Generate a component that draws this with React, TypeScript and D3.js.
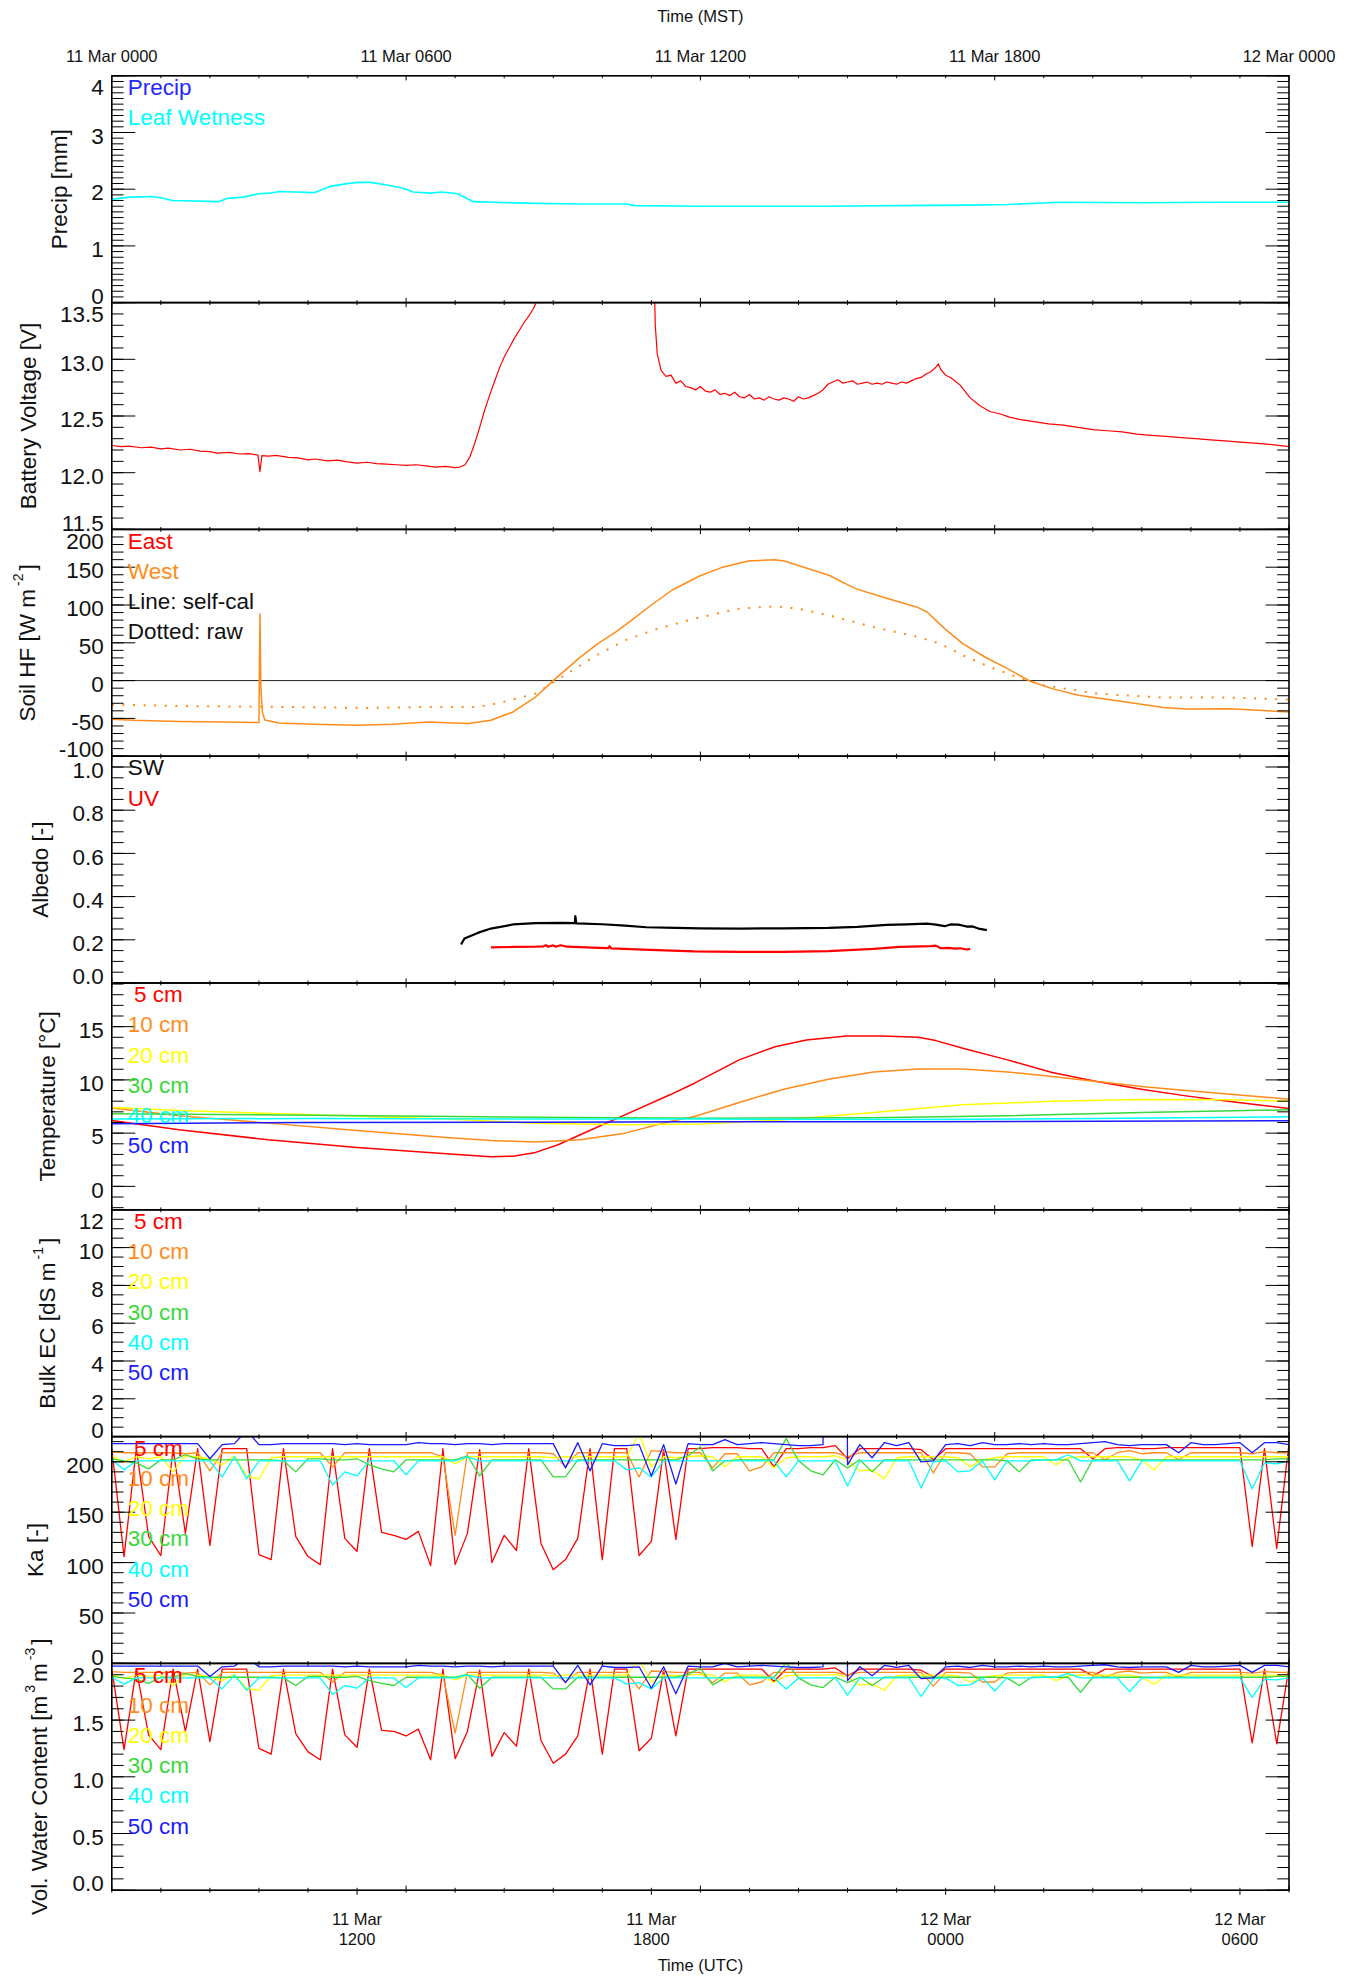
import React from "react";
import * as d3 from "d3";

// ---------------- time axis labels ----------------
const mstTickHours = [0, 6, 12, 18, 24];
const mstTickLabels = ["11 Mar 0000", "11 Mar 0600", "11 Mar 1200", "11 Mar 1800", "12 Mar 0000"];
const utcTickHours = [5, 11, 17, 23];
const utcTickDates = ["11 Mar", "11 Mar", "12 Mar", "12 Mar"];
const utcTickTimes = ["1200", "1800", "0000", "0600"];

// ---------------- panel 1: leaf wetness [hour MST, value] ----------------
const leafWetness = [
  [0, 1.82], [0.36, 1.86], [0.82, 1.87], [1.0, 1.85], [1.23, 1.8], [2.18, 1.78], [2.36, 1.84], [2.68, 1.86],
  [3.0, 1.92], [3.23, 1.93], [3.41, 1.96], [3.73, 1.95], [4.14, 1.94], [4.46, 2.05], [4.73, 2.09], [5.0, 2.12],
  [5.28, 2.12], [5.64, 2.07], [5.91, 2.02], [6.0, 2.0], [6.14, 1.95], [6.5, 1.93], [6.73, 1.95], [7.05, 1.92],
  [7.37, 1.78], [8.64, 1.75], [9.55, 1.74], [10.5, 1.74], [10.66, 1.71], [12.0, 1.7], [12.8, 1.7], [14.5, 1.7],
  [16.0, 1.71], [17.5, 1.72], [18.25, 1.73], [19.35, 1.77], [21.0, 1.76], [22.5, 1.77], [24, 1.77],
];

// ---------------- panel 2: battery voltage ----------------
const batteryVoltage = [
  [0, 12.24], [0.2, 12.23], [0.35, 12.235], [0.6, 12.22], [0.8, 12.226], [1.0, 12.21], [1.15, 12.217], [1.4, 12.2],
  [1.6, 12.207], [1.8, 12.19], [2.0, 12.186], [2.15, 12.173], [2.4, 12.18], [2.6, 12.165], [2.8, 12.168], [2.98, 12.155],
  [3.02, 12.01], [3.06, 12.15], [3.2, 12.146], [3.35, 12.152], [3.6, 12.135], [3.8, 12.13], [4.0, 12.113], [4.15, 12.121],
  [4.4, 12.105], [4.6, 12.111], [4.8, 12.095], [5.0, 12.085], [5.2, 12.092], [5.4, 12.08], [5.6, 12.076], [5.8, 12.07],
  [6.0, 12.064], [6.2, 12.07], [6.4, 12.06], [6.6, 12.05], [6.8, 12.056], [7.0, 12.045], [7.1, 12.05], [7.2, 12.07],
  [7.3, 12.14], [7.4, 12.26], [7.5, 12.4], [7.6, 12.55], [7.7, 12.68], [7.8, 12.8], [7.9, 12.92], [8.0, 13.02],
  [8.1, 13.1], [8.2, 13.18], [8.3, 13.25], [8.4, 13.32], [8.5, 13.38], [8.6, 13.45], [8.65, 13.5], [8.7, 13.62],
  [8.8, 13.8], [9.0, 14.0], [10.8, 14.0], [11.05, 13.9], [11.08, 13.3], [11.12, 13.05],
  [11.2, 12.9], [11.3, 12.85], [11.4, 12.86], [11.5, 12.79], [11.6, 12.81], [11.7, 12.76], [11.8, 12.75], [11.9, 12.73],
  [12.0, 12.76], [12.1, 12.72], [12.2, 12.71], [12.3, 12.73], [12.4, 12.69], [12.5, 12.7], [12.6, 12.68], [12.7, 12.71],
  [12.8, 12.67], [12.9, 12.66], [13.0, 12.69], [13.1, 12.65], [13.2, 12.66], [13.3, 12.64], [13.4, 12.67], [13.5, 12.65],
  [13.6, 12.64], [13.7, 12.66], [13.8, 12.65], [13.9, 12.63], [14.0, 12.67], [14.1, 12.65], [14.2, 12.66], [14.3, 12.68],
  [14.4, 12.7], [14.5, 12.73], [14.6, 12.78], [14.7, 12.8], [14.8, 12.82], [14.9, 12.79], [15.0, 12.8], [15.1, 12.81],
  [15.2, 12.78], [15.3, 12.79], [15.4, 12.8], [15.5, 12.78], [15.6, 12.79], [15.7, 12.78], [15.8, 12.8], [15.9, 12.79],
  [16.0, 12.78], [16.1, 12.8], [16.2, 12.79], [16.3, 12.81], [16.4, 12.83], [16.5, 12.84], [16.6, 12.87], [16.7, 12.89],
  [16.8, 12.93], [16.85, 12.96], [16.9, 12.91], [17.0, 12.86], [17.1, 12.84], [17.3, 12.77], [17.5, 12.66], [17.7, 12.59],
  [17.9, 12.54], [18.1, 12.52], [18.3, 12.49], [18.5, 12.47], [18.8, 12.45], [19.1, 12.43], [19.4, 12.42], [19.7, 12.4],
  [20.0, 12.38], [20.3, 12.37], [20.6, 12.36], [20.9, 12.34], [21.2, 12.33], [21.5, 12.32], [21.8, 12.31], [22.1, 12.3],
  [22.4, 12.29], [22.7, 12.28], [23.0, 12.27], [23.3, 12.26], [23.6, 12.25], [24.0, 12.23],
];

// ---------------- panel 3: soil heat flux (West) ----------------
const soilHFWestSelfCal = [
  [0, -51], [0.45, -52.5], [1.37, -54], [2.27, -54.6], [3.0, -55.5], [3.02, 88], [3.04, -10], [3.07, -42],
  [3.12, -52], [3.4, -56], [4.1, -57.8], [5.0, -59], [5.73, -57.8], [6.46, -54.7], [6.82, -55.6], [7.28, -56.9],
  [7.73, -52.5], [8.18, -41.5], [8.64, -21.7], [9.0, 0], [9.55, 31], [9.91, 49], [10.27, 64], [10.64, 82],
  [11.0, 100], [11.42, 119.5], [11.97, 138], [12.43, 149.5], [12.98, 158.2], [13.52, 160], [13.71, 158.2], [14.62, 139.3],
  [15.16, 121.7], [15.71, 110.6], [16.44, 96.6], [16.62, 90.8], [16.98, 68.8], [17.35, 48.9], [17.8, 31.2], [18.26, 15.9],
  [18.71, -0.5], [19.17, -10.6], [19.71, -19.4], [20.53, -27], [21.44, -35.7], [21.9, -37.5], [22.8, -37.1], [24, -41.5],
];
const soilHFWestRaw = [
  [0, -31.8], [1.37, -33.6], [3.0, -34.4], [4.1, -35.3], [5.2, -36.2], [6.37, -34.9], [7.46, -34.9], [7.9, -29.6],
  [8.64, -17.2], [9.18, 4.8], [9.82, 31.2], [10.46, 53.3], [11.1, 68], [11.88, 82], [12.79, 95.2], [13.52, 98.3],
  [13.98, 95.2], [14.62, 86.4], [15.53, 70.9], [16.44, 57.7], [16.89, 48.9], [17.35, 33.5], [17.9, 18], [18.45, 4.8],
  [18.99, -6.2], [20.09, -17.2], [21.44, -22.5], [22.8, -22.5], [24, -25.1],
];

// ---------------- panel 4: albedo ----------------
const albedoSW = [
  [7.12, 0.178], [7.19, 0.206], [7.46, 0.232], [7.73, 0.252], [8.18, 0.271], [8.64, 0.277], [9.2, 0.278], [9.44, 0.277],
  [9.45, 0.31], [9.47, 0.276], [10.0, 0.272], [10.46, 0.266], [10.9, 0.258], [11.5, 0.255], [12.0, 0.253], [12.79, 0.252],
  [13.7, 0.253], [14.61, 0.255], [15.2, 0.26], [15.8, 0.269], [16.2, 0.271], [16.62, 0.275], [16.8, 0.27], [16.98, 0.263],
  [17.1, 0.271], [17.26, 0.27], [17.36, 0.265], [17.44, 0.261], [17.55, 0.262], [17.67, 0.252], [17.84, 0.245],
];
const albedoUV = [
  [7.73, 0.165], [8.2, 0.167], [8.64, 0.168], [8.8, 0.17], [8.85, 0.175], [8.9, 0.168], [9.0, 0.174], [9.05, 0.168],
  [9.15, 0.175], [9.28, 0.168], [9.8, 0.164], [10.12, 0.161], [10.15, 0.17], [10.18, 0.16], [10.97, 0.153], [11.88, 0.146],
  [12.79, 0.144], [13.7, 0.144], [14.61, 0.148], [15.53, 0.158], [16.07, 0.167], [16.7, 0.171], [16.8, 0.173], [16.9, 0.161],
  [17.05, 0.163], [17.2, 0.159], [17.3, 0.161], [17.42, 0.155], [17.5, 0.158],
];

// ---------------- panel 5: soil temperature ----------------
const temp5cm = [
  [0, 6.19], [1.37, 5.31], [3.19, 4.38], [5.0, 3.66], [6.82, 3.07], [7.73, 2.78], [8.18, 2.84], [8.64, 3.19],
  [9.1, 3.91], [9.55, 4.85], [10.46, 6.72], [11.38, 8.6], [11.88, 9.69], [12.79, 11.88], [13.52, 13.12], [14.16, 13.75],
  [14.98, 14.13], [15.71, 14.13], [16.44, 14.0], [16.8, 13.69], [17.35, 12.97], [18.26, 11.88], [19.17, 10.69], [20.08, 9.84],
  [20.99, 9.13], [21.9, 8.5], [22.8, 7.97], [24, 7.31],
];
const temp10cm = [
  [0, 7.35], [1.37, 6.63], [3.19, 5.94], [5.0, 5.25], [6.82, 4.6], [7.73, 4.31], [8.64, 4.16], [9.55, 4.38],
  [10.46, 5.0], [11.38, 6.09], [11.88, 6.56], [12.79, 7.88], [13.7, 9.13], [14.61, 10.07], [15.53, 10.75], [16.44, 11.03],
  [17.35, 11.03], [18.26, 10.75], [19.17, 10.31], [20.08, 9.84], [20.99, 9.38], [21.9, 9.0], [22.8, 8.66], [24, 8.19],
];
const temp20cm = [
  [0, 7.41], [1.37, 7.13], [4.1, 6.72], [6.82, 6.32], [8.64, 5.94], [10.46, 5.78], [12, 5.85], [13.7, 6.25],
  [15.53, 6.94], [17.35, 7.66], [19.17, 8.0], [20.99, 8.16], [22.8, 8.13], [24, 8.0],
];
const temp30cm = [[0, 6.82], [4.1, 6.69], [8.64, 6.5], [12, 6.4], [15.5, 6.44], [18.26, 6.63], [20.99, 6.94], [24, 7.19]];
const temp40cm = [[0, 6.32], [4.1, 6.38], [8.64, 6.32], [12, 6.32], [16.44, 6.28], [20, 6.38], [24, 6.53]];
const temp50cm = [[0, 5.88], [4.1, 6.0], [8.64, 6.03], [12, 6.06], [16.44, 6.06], [24, 6.16]];

// ---------------- panels 7-8: Ka and VWC, 15-minute samples from 11 Mar 0000 MST ----------------
const sampleHours = d3.range(97).map((i) => i * 0.25);

const ka5cm = [
  213, 106, 213, 126, 107, 213, 129, 213, 117, 213, 213, 213, 108, 103, 213, 126,
  106, 98, 213, 124, 111, 213, 130, 127, 123, 131, 97, 213, 98, 129, 212, 100,
  127, 112, 213, 119, 93, 103, 124, 213, 103, 213, 213, 107, 121, 212, 123, 213,
  213, 214, 214, 214, 213, 213, 195, 213, 213, 214, 214, 216, 203, 213, 213, 213,
  213, 213, 212, 202, 213, 213, 213, 213, 213, 213, 213, 213, 213, 213, 213, 213,
  203, 213, 214, 214, 213, 213, 214, 214, 214, 214, 214, 214, 214, 116, 213, 114,
  218,
];
const ka10cm = [
  210, 209, 209, 209, 209, 209, 208, 209, 191, 209, 209, 209, 209, 209, 209, 209,
  209, 209, 195, 209, 209, 209, 209, 209, 209, 209, 209, 205, 127, 209, 209, 209,
  209, 209, 209, 209, 208, 195, 209, 209, 209, 209, 209, 185, 211, 210, 209, 209,
  209, 194, 208, 208, 191, 195, 209, 209, 209, 209, 209, 209, 205, 209, 209, 209,
  209, 209, 209, 189, 209, 209, 208, 195, 195, 208, 209, 209, 209, 209, 209, 209,
  209, 202, 209, 211, 208, 209, 209, 202, 209, 209, 209, 209, 209, 208, 210, 209,
  209,
];
const ka20cm = [
  206, 200, 205, 203, 205, 190, 206, 205, 203, 197, 206, 186, 183, 204, 205, 205,
  205, 205, 205, 205, 205, 205, 205, 205, 205, 205, 205, 205, 198, 205, 205, 205,
  205, 205, 205, 205, 204, 205, 205, 205, 205, 205, 205, 228, 195, 205, 204, 205,
  206, 205, 195, 205, 205, 205, 194, 204, 205, 205, 205, 206, 202, 191, 192, 183,
  204, 205, 205, 205, 205, 204, 195, 202, 204, 205, 205, 205, 205, 197, 204, 205,
  205, 205, 205, 205, 202, 192, 205, 205, 205, 205, 205, 205, 205, 205, 205, 205,
  205,
];
const ka30cm = [
  203, 201, 199, 193, 202, 202, 207, 203, 202, 202, 202, 202, 202, 202, 201, 190,
  203, 203, 202, 202, 203, 197, 193, 190, 202, 202, 202, 202, 202, 206, 186, 202,
  202, 202, 202, 202, 185, 185, 202, 202, 202, 202, 202, 202, 202, 202, 202, 206,
  215, 191, 201, 202, 202, 202, 202, 223, 201, 191, 187, 202, 194, 202, 190, 202,
  202, 202, 202, 202, 202, 202, 202, 202, 202, 201, 190, 202, 202, 202, 202, 180,
  202, 202, 202, 202, 202, 202, 202, 202, 202, 202, 202, 202, 202, 202, 202, 203,
  203,
];
const ka40cm = [
  202, 192, 201, 201, 201, 201, 201, 201, 201, 185, 205, 183, 201, 201, 201, 201,
  201, 201, 177, 190, 186, 201, 201, 201, 187, 201, 201, 201, 201, 205, 201, 201,
  201, 201, 201, 201, 201, 201, 201, 201, 201, 201, 192, 194, 185, 201, 201, 201,
  201, 201, 201, 201, 201, 201, 201, 185, 201, 201, 201, 201, 176, 201, 201, 201,
  201, 201, 174, 200, 201, 190, 191, 201, 182, 201, 201, 201, 202, 202, 207, 201,
  201, 201, 201, 181, 201, 201, 201, 201, 201, 201, 201, 201, 201, 173, 199, 198,
  201,
];
const ka50cm = [
  218, 218, 218, 218, 218, 218, 218, 218, 203, 217, 218, 231, 217, 217, 218, 218,
  218, 218, 218, 217, 218, 217, 217, 217, 217, 219, 218, 218, 217, 218, 218, 217,
  218, 218, 218, 218, 218, 194, 219, 191, 218, 216, 216, 217, 186, 217, 178, 218,
  217, 217, 222, 217, 218, 219, 218, 217, 216, 216, 217, 2000, 197, 217, 204, 219,
  216, 219, 200, 201, 217, 218, 216, 219, 217, 217, 218, 217, 218, 217, 217, 218,
  219, 220, 217, 216, 217, 217, 217, 209, 219, 217, 217, 218, 219, 209, 219, 219,
  217,
];

const vwc5cm = [
  1.95, 1.24, 1.95, 1.37, 1.24, 1.95, 1.4, 1.95, 1.31, 1.95, 1.95, 1.95, 1.25, 1.2, 1.95, 1.38,
  1.22, 1.15, 1.95, 1.37, 1.26, 1.95, 1.41, 1.4, 1.36, 1.42, 1.15, 1.95, 1.16, 1.4, 1.94, 1.18,
  1.39, 1.27, 1.95, 1.32, 1.12, 1.2, 1.36, 1.95, 1.2, 1.95, 1.95, 1.23, 1.34, 1.94, 1.36, 1.95,
  1.95, 1.95, 1.95, 1.95, 1.95, 1.95, 1.84, 1.95, 1.95, 1.95, 1.95, 1.96, 1.89, 1.95, 1.95, 1.95,
  1.95, 1.95, 1.94, 1.88, 1.95, 1.95, 1.95, 1.95, 1.95, 1.95, 1.95, 1.95, 1.95, 1.95, 1.95, 1.95,
  1.89, 1.95, 1.95, 1.95, 1.95, 1.95, 1.95, 1.95, 1.95, 1.95, 1.95, 1.95, 1.95, 1.3, 1.95, 1.29,
  1.97,
];
const vwc10cm = [
  1.927, 1.921, 1.921, 1.921, 1.921, 1.921, 1.915, 1.921, 1.811, 1.921, 1.921, 1.921, 1.921, 1.921, 1.921, 1.921,
  1.921, 1.921, 1.836, 1.921, 1.921, 1.921, 1.921, 1.921, 1.921, 1.921, 1.921, 1.897, 1.386, 1.921, 1.921, 1.921,
  1.921, 1.921, 1.921, 1.921, 1.915, 1.836, 1.921, 1.921, 1.921, 1.921, 1.921, 1.775, 1.933, 1.927, 1.921, 1.921,
  1.921, 1.83, 1.915, 1.915, 1.811, 1.836, 1.921, 1.921, 1.921, 1.921, 1.921, 1.921, 1.897, 1.921, 1.921, 1.921,
  1.921, 1.921, 1.921, 1.799, 1.921, 1.921, 1.915, 1.836, 1.836, 1.915, 1.921, 1.921, 1.921, 1.921, 1.921, 1.921,
  1.921, 1.878, 1.921, 1.933, 1.915, 1.921, 1.921, 1.878, 1.921, 1.921, 1.921, 1.921, 1.921, 1.915, 1.927, 1.921,
  1.921,
];
const vwc20cm = [
  1.903, 1.866, 1.897, 1.885, 1.897, 1.805, 1.903, 1.897, 1.885, 1.848, 1.903, 1.781, 1.763, 1.891, 1.897, 1.897,
  1.897, 1.897, 1.897, 1.897, 1.897, 1.897, 1.897, 1.897, 1.897, 1.897, 1.897, 1.897, 1.854, 1.897, 1.897, 1.897,
  1.897, 1.897, 1.897, 1.897, 1.891, 1.897, 1.897, 1.897, 1.897, 1.897, 1.897, 2.037, 1.836, 1.897, 1.891, 1.897,
  1.903, 1.897, 1.836, 1.897, 1.897, 1.897, 1.83, 1.891, 1.897, 1.897, 1.897, 1.903, 1.878, 1.811, 1.817, 1.763,
  1.891, 1.897, 1.897, 1.897, 1.897, 1.891, 1.836, 1.878, 1.891, 1.897, 1.897, 1.897, 1.897, 1.848, 1.891, 1.897,
  1.897, 1.897, 1.897, 1.897, 1.878, 1.817, 1.897, 1.897, 1.897, 1.897, 1.897, 1.897, 1.897, 1.897, 1.897, 1.897,
  1.897,
];
const vwc30cm = [
  1.885, 1.872, 1.86, 1.824, 1.878, 1.878, 1.909, 1.885, 1.878, 1.878, 1.878, 1.878, 1.878, 1.878, 1.872, 1.805,
  1.885, 1.885, 1.878, 1.878, 1.885, 1.848, 1.824, 1.805, 1.878, 1.878, 1.878, 1.878, 1.878, 1.903, 1.781, 1.878,
  1.878, 1.878, 1.878, 1.878, 1.775, 1.775, 1.878, 1.878, 1.878, 1.878, 1.878, 1.878, 1.878, 1.878, 1.878, 1.903,
  1.958, 1.811, 1.872, 1.878, 1.878, 1.878, 1.878, 2.007, 1.872, 1.811, 1.787, 1.878, 1.83, 1.878, 1.805, 1.878,
  1.878, 1.878, 1.878, 1.878, 1.878, 1.878, 1.878, 1.878, 1.878, 1.872, 1.805, 1.878, 1.878, 1.878, 1.878, 1.744,
  1.878, 1.878, 1.878, 1.878, 1.878, 1.878, 1.878, 1.878, 1.878, 1.878, 1.878, 1.878, 1.878, 1.878, 1.878, 1.885,
  1.885,
];
const vwc40cm = [
  1.878, 1.817, 1.872, 1.872, 1.872, 1.872, 1.872, 1.872, 1.872, 1.775, 1.897, 1.763, 1.872, 1.872, 1.872, 1.872,
  1.872, 1.872, 1.726, 1.805, 1.781, 1.872, 1.872, 1.872, 1.787, 1.872, 1.872, 1.872, 1.872, 1.897, 1.872, 1.872,
  1.872, 1.872, 1.872, 1.872, 1.872, 1.872, 1.872, 1.872, 1.872, 1.872, 1.817, 1.83, 1.775, 1.872, 1.872, 1.872,
  1.872, 1.872, 1.872, 1.872, 1.872, 1.872, 1.872, 1.775, 1.872, 1.872, 1.872, 1.872, 1.72, 1.872, 1.872, 1.872,
  1.872, 1.872, 1.708, 1.866, 1.872, 1.805, 1.811, 1.872, 1.757, 1.872, 1.872, 1.872, 1.878, 1.878, 1.909, 1.872,
  1.872, 1.872, 1.872, 1.75, 1.872, 1.872, 1.872, 1.872, 1.872, 1.872, 1.872, 1.872, 1.872, 1.701, 1.86, 1.854,
  1.872,
];
const vwc50cm = [
  1.976, 1.976, 1.976, 1.976, 1.976, 1.976, 1.976, 1.976, 1.885, 1.97, 1.976, 2.055, 1.97, 1.97, 1.976, 1.976,
  1.976, 1.976, 1.976, 1.97, 1.976, 1.97, 1.97, 1.97, 1.97, 1.982, 1.976, 1.976, 1.97, 1.976, 1.976, 1.97,
  1.976, 1.976, 1.976, 1.976, 1.976, 1.83, 1.982, 1.811, 1.976, 1.964, 1.964, 1.97, 1.781, 1.97, 1.732, 1.976,
  1.97, 1.97, 2.0, 1.97, 1.976, 1.982, 1.976, 1.97, 1.964, 1.964, 1.97, 20, 1.848, 1.97, 1.891, 1.982,
  1.964, 1.982, 1.866, 1.872, 1.97, 1.976, 1.964, 1.982, 1.97, 1.97, 1.976, 1.97, 1.976, 1.97, 1.97, 1.976,
  1.982, 1.988, 1.97, 1.964, 1.97, 1.97, 1.97, 1.921, 1.982, 1.97, 1.97, 1.976, 1.982, 1.921, 1.982, 1.982,
  1.97,
];

const depthLabels = [" 5 cm", "10 cm", "20 cm", "30 cm", "40 cm", "50 cm"];

// ---------------- layout / style ----------------
const W = 1348;
const H = 1977;
const X0 = 111.8;
const X1 = 1289;
const TOP = 75.8;
const PH = 226.8;
const FONT = "'Liberation Sans', Arial, Helvetica, sans-serif";
const RED = "#ff0000";
const ORANGE = "#ff8c1a";
const YELLOW = "#ffff00";
const GREEN = "#38d838";
const CYAN = "#00ffff";
const BLUE = "#1a1aff";
const depthColors = [RED, ORANGE, YELLOW, GREEN, CYAN, BLUE];

const x = d3.scaleLinear().domain([0, 24]).range([X0, X1]);

function ticksFor(d0: number, d1: number, step: number) {
  const out: number[] = [];
  const k0 = Math.ceil(d0 / step - 1e-6);
  const k1 = Math.floor(d1 / step + 1e-6);
  for (let k = k0; k <= k1; k++) out.push(+(k * step).toFixed(6));
  return out;
}

type Series = { pts: number[][]; color: string; width: number; dash?: string };
type PanelDef = {
  domain: [number, number];
  major: number;
  minor: number;
  fmt: (v: number) => string;
  title: React.ReactNode;
  titleX: number;
  legend: { text: string; color: string }[];
  series: Series[];
  zeroLine?: boolean;
};

const pair = (t: number[], v: number[]) => t.map((tt, i) => [tt, v[i]]);

function Panel({ def, index, last }: { def: PanelDef; index: number; last: boolean }) {
  const top = TOP + index * PH;
  const bottom = top + PH;
  const y = d3.scaleLinear().domain(def.domain).range([bottom, top]);
  const lineGen = d3
    .line<number[]>()
    .x((d) => x(d[0]))
    .y((d) => y(d[1]));
  const majors = ticksFor(def.domain[0], def.domain[1], def.major);
  const minors = ticksFor(def.domain[0], def.domain[1], def.minor);
  const hours = d3.range(0, 25);
  const clipId = `clip-panel-${index}`;
  const cy = (top + bottom) / 2;

  return (
    <g>
      <defs>
        <clipPath id={clipId}>
          <rect x={X0} y={top} width={X1 - X0} height={PH} />
        </clipPath>
      </defs>
      {def.zeroLine && <line x1={X0} x2={X1} y1={y(0)} y2={y(0)} stroke="#222" strokeWidth={1} />}
      <g clipPath={`url(#${clipId})`}>
        {def.series.map((s, i) => (
          <path
            key={i}
            d={lineGen(s.pts) || ""}
            fill="none"
            stroke={s.color}
            strokeWidth={s.width}
            strokeDasharray={s.dash}
            strokeLinejoin="round"
          />
        ))}
      </g>
      <rect x={X0} y={top} width={X1 - X0} height={PH} fill="none" stroke="#000" strokeWidth={1.6} />
      {hours.map((h) => {
        const len = h % 6 === 0 ? 4.6 : 2.4;
        return (
          <g key={"xt" + h}>
            <line x1={x(h)} x2={x(h)} y1={top} y2={top + len} stroke="#000" strokeWidth={1} />
            <line x1={x(h)} x2={x(h)} y1={bottom} y2={bottom - len} stroke="#000" strokeWidth={1} />
          </g>
        );
      })}
      {last &&
        hours.map((h) => {
          const len = utcTickHours.includes(h) ? 4.6 : 2.4;
          return <line key={"ut" + h} x1={x(h)} x2={x(h)} y1={bottom} y2={bottom + len} stroke="#000" strokeWidth={1} />;
        })}
      {minors.map((v) => (
        <g key={"mn" + v}>
          <line x1={X0} x2={X0 + 11.8} y1={y(v)} y2={y(v)} stroke="#000" strokeWidth={1} />
          <line x1={X1} x2={X1 - 11.8} y1={y(v)} y2={y(v)} stroke="#000" strokeWidth={1} />
        </g>
      ))}
      {majors.map((v) => {
        const ty = y(v);
        let off = 3.7;
        if (Math.abs(ty - top) < 1.5) off = 11.8;
        else if (Math.abs(ty - bottom) < 1.5) off = -6.3;
        return (
          <g key={"mj" + v}>
            <line x1={X0} x2={X0 + 23.5} y1={ty} y2={ty} stroke="#000" strokeWidth={1} />
            <line x1={X1} x2={X1 - 23.5} y1={ty} y2={ty} stroke="#000" strokeWidth={1} />
            <text x={X0 - 8} y={ty + off} textAnchor="end" dominantBaseline="central" fontSize={22.5} fill="#111">
              {def.fmt(v)}
            </text>
          </g>
        );
      })}
      <text
        transform={`translate(${def.titleX},${cy}) rotate(-90)`}
        textAnchor="middle"
        dominantBaseline="central"
        fontSize={22.5}
        fill="#111"
      >
        {def.title}
      </text>
      {def.legend.map((l, i) => (
        <text
          key={"lg" + i}
          x={X0 + 16}
          y={top + 11.7 + i * 30.2}
          dominantBaseline="central"
          fontSize={22.5}
          fill={l.color}
          style={{ whiteSpace: "pre" }}
        >
          {l.text}
        </text>
      ))}
    </g>
  );
}

// plain hyphen-minus formatting, as in the reference
const fmtInt = (v: number) => String(Math.round(v));
const fmtOne = (v: number) => v.toFixed(1);

export default function App() {
  const depthLegend = depthLabels.map((t, i) => ({ text: t, color: depthColors[i] }));
  const kaSeries = [ka5cm, ka10cm, ka20cm, ka30cm, ka40cm, ka50cm].map((v, i) => ({
    pts: pair(sampleHours, v),
    color: depthColors[i],
    width: 1.3,
  }));
  const vwcSeries = [vwc5cm, vwc10cm, vwc20cm, vwc30cm, vwc40cm, vwc50cm].map((v, i) => ({
    pts: pair(sampleHours, v),
    color: depthColors[i],
    width: 1.3,
  }));
  const tempSeries = [temp5cm, temp10cm, temp20cm, temp30cm, temp40cm, temp50cm].map((p, i) => ({
    pts: p,
    color: depthColors[i],
    width: 1.5,
  }));

  const panels: PanelDef[] = [
    {
      domain: [0, 4],
      major: 1,
      minor: 0.1,
      fmt: fmtInt,
      title: "Precip [mm]",
      titleX: 59,
      legend: [
        { text: "Precip", color: "#2626ff" },
        { text: "Leaf Wetness", color: CYAN },
      ],
      series: [{ pts: leafWetness, color: CYAN, width: 1.6 }],
    },
    {
      domain: [11.5, 13.5],
      major: 0.5,
      minor: 0.1,
      fmt: fmtOne,
      title: "Battery Voltage [V]",
      titleX: 28,
      legend: [],
      series: [{ pts: batteryVoltage, color: RED, width: 1.2 }],
    },
    {
      domain: [-100, 200],
      major: 50,
      minor: 10,
      fmt: fmtInt,
      title: (
        <>
          Soil HF [W m
          <tspan dx={3} dy={-9} fontSize={14}>
            -2
          </tspan>
          <tspan dx={3} dy={9}>
            ]
          </tspan>
        </>
      ),
      titleX: 27,
      legend: [
        { text: "East", color: RED },
        { text: "West", color: ORANGE },
        { text: "Line: self-cal", color: "#111" },
        { text: "Dotted: raw", color: "#111" },
      ],
      series: [
        { pts: soilHFWestSelfCal, color: ORANGE, width: 1.5 },
        { pts: soilHFWestRaw, color: ORANGE, width: 2, dash: "2 8.6" },
      ],
      zeroLine: true,
    },
    {
      domain: [0, 1.05],
      major: 0.2,
      minor: 0.05,
      fmt: fmtOne,
      title: "Albedo [-]",
      titleX: 40,
      legend: [
        { text: "SW", color: "#111" },
        { text: "UV", color: RED },
      ],
      series: [
        { pts: albedoSW, color: "#000", width: 2.2 },
        { pts: albedoUV, color: RED, width: 2.2 },
      ],
    },
    {
      domain: [-2.2, 19.1],
      major: 5,
      minor: 1,
      fmt: fmtInt,
      title: "Temperature [°C]",
      titleX: 47,
      legend: depthLegend,
      series: tempSeries,
    },
    {
      domain: [0, 12],
      major: 2,
      minor: 0.5,
      fmt: fmtInt,
      title: (
        <>
          Bulk EC [dS m
          <tspan dx={3} dy={-9} fontSize={14}>
            -1
          </tspan>
          <tspan dx={3} dy={9}>
            ]
          </tspan>
        </>
      ),
      titleX: 47,
      legend: depthLegend,
      series: [],
    },
    {
      domain: [0, 225],
      major: 50,
      minor: 10,
      fmt: fmtInt,
      title: "Ka [-]",
      titleX: 35,
      legend: depthLegend,
      series: kaSeries,
    },
    {
      domain: [0, 2.0],
      major: 0.5,
      minor: 0.1,
      fmt: fmtOne,
      title: (
        <>
          Vol. Water Content [m
          <tspan dx={3} dy={-9} fontSize={14}>
            3
          </tspan>
          <tspan dx={3} dy={9}>
            m
          </tspan>
          <tspan dx={3} dy={-9} fontSize={14}>
            -3
          </tspan>
          <tspan dx={3} dy={9}>
            ]
          </tspan>
        </>
      ),
      titleX: 39,
      legend: depthLegend,
      series: vwcSeries,
    },
  ];

  const lastBottom = TOP + panels.length * PH;

  return (
    <div style={{ position: "absolute", left: 0, top: 0 }}>
      <svg width={W} height={H} style={{ display: "block", fontFamily: FONT }}>
        <rect x={0} y={0} width={W} height={H} fill="#fff" />
        <text x={(X0 + X1) / 2} y={15.7} textAnchor="middle" dominantBaseline="central" fontSize={16.5} fill="#111">
          Time (MST)
        </text>
        {mstTickHours.map((h, i) => (
          <text key={"mst" + h} x={x(h)} y={55.7} textAnchor="middle" dominantBaseline="central" fontSize={16.5} fill="#111">
            {mstTickLabels[i]}
          </text>
        ))}
        {panels.map((p, i) => (
          <Panel key={i} def={p} index={i} last={i === panels.length - 1} />
        ))}
        {utcTickHours.map((h, i) => (
          <g key={"utc" + h}>
            <text x={x(h)} y={lastBottom + 28.8} textAnchor="middle" dominantBaseline="central" fontSize={16.5} fill="#111">
              {utcTickDates[i]}
            </text>
            <text x={x(h)} y={lastBottom + 48.8} textAnchor="middle" dominantBaseline="central" fontSize={16.5} fill="#111">
              {utcTickTimes[i]}
            </text>
          </g>
        ))}
        <text
          x={(X0 + X1) / 2}
          y={lastBottom + 74.5}
          textAnchor="middle"
          dominantBaseline="central"
          fontSize={16.5}
          fill="#111"
        >
          Time (UTC)
        </text>
      </svg>
    </div>
  );
}
